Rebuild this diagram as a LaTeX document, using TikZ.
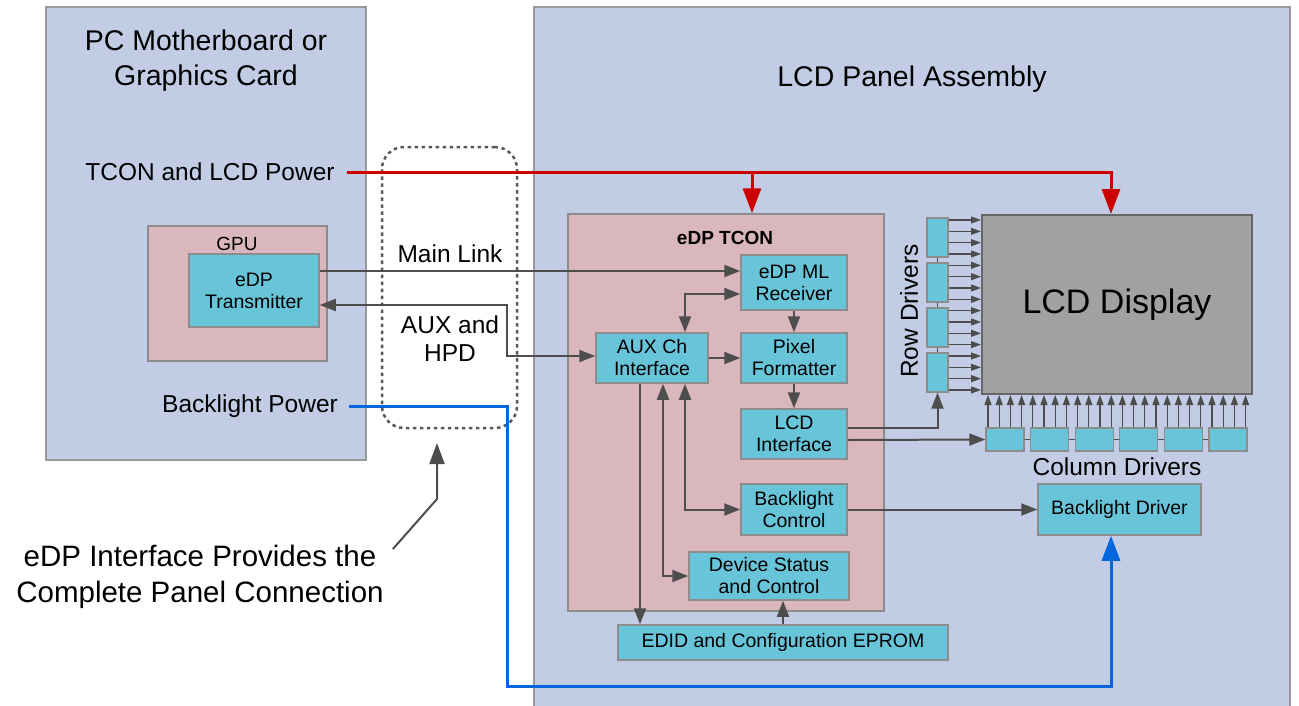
\documentclass[tikz,border=0pt]{standalone}
\usepackage{fontspec}
\setmainfont{Liberation Sans}
\usetikzlibrary{arrows.meta}

\definecolor{boardblue}{RGB}{194,205,229}
\definecolor{tconpink}{RGB}{218,182,189}
\definecolor{chipcyan}{RGB}{104,196,217}
\definecolor{wiregray}{RGB}{77,77,77}
\definecolor{pwrred}{RGB}{204,0,0}
\definecolor{pwrblue}{RGB}{0,102,221}

\begin{document}
\begin{tikzpicture}[x=1pt,y=-1pt,>={Triangle[length=16pt,width=12pt]},
	board/.style={draw=black!40,fill=boardblue,line width=1.5pt},
	pinkbox/.style={draw=black!45,fill=tconpink,line width=1.5pt},
	chip/.style={draw=black!45,fill=chipcyan,line width=1.5pt,inner sep=0pt,align=center,font=\fontsize{19.5}{22}\selectfont},
	drv/.style={draw=black!45,fill=chipcyan,line width=1.2pt,inner sep=0pt,minimum width=21pt,minimum height=39pt},
	bus/.style={wiregray,line width=2pt},
	tickarrow/.style={wiregray,line width=1.1pt,-{Triangle[length=10pt,width=7pt]}},
	power/.style={line width=3pt,-{Triangle[length=25pt,width=18pt]}},
	txt/.style={inner sep=0pt,align=center,font=\fontsize{24.5}{28}\selectfont},
	heading/.style={inner sep=0pt,align=center,font=\fontsize{28.5}{35}\selectfont}]
	\useasboundingbox (0,0) rectangle (1299,705);

	\node[board,minimum width=320pt,minimum height=453pt] (pcboard) at (206,233.5) {};
	\node[board,minimum width=756pt,minimum height=713pt] (panel) at (912,363.5) {};
	\node[heading] (pctitle) at (206,61) {PC Motherboard or\\Graphics Card};
	\node[heading] (paneltitle) at (912,79) {LCD Panel Assembly};
	\node[txt] (pwr) at (210,172) {TCON and LCD Power};
	\node[txt] (blpwr) at (250,406) {Backlight Power};

	\node[pinkbox,minimum width=179pt,minimum height=135pt] (gpu) at (237.5,293.5) {};
	\node[font=\fontsize{19}{22}\selectfont,inner sep=0pt] (gpulbl) at (237,244) {GPU};
	\node[chip,minimum width=130pt,minimum height=73pt] (tx) at (254,290.5) {eDP\\Transmitter};

	\node[draw=black!65,dash pattern=on 3.5pt off 3.5pt,line width=2.5pt,rounded corners=22pt,minimum width=135pt,minimum height=281pt] (iface) at (449.5,287.5) {};
	\node[txt] (mainlbl) at (450,254) {Main Link};
	\node[txt] (auxlbl) at (450,339) {AUX and\\HPD};

	\node[pinkbox,minimum width=316pt,minimum height=397pt] (tcon) at (726,412.5) {};
	\node[font=\bfseries\fontsize{19}{22}\selectfont,inner sep=0pt] (tconlbl) at (725,238) {eDP TCON};
	\node[chip,minimum width=106pt,minimum height=55pt] (mlrx) at (794,282.5) {eDP ML\\Receiver};
	\node[chip,minimum width=106pt,minimum height=50pt] (pixfmt) at (794,358) {Pixel\\Formatter};
	\node[chip,minimum width=112pt,minimum height=50pt] (auxch) at (652,358) {AUX Ch\\Interface};
	\node[chip,minimum width=106pt,minimum height=50pt] (lcdif) at (794,434) {LCD\\Interface};
	\node[chip,minimum width=106pt,minimum height=51pt] (blctl) at (794,509.5) {Backlight\\Control};
	\node[chip,minimum width=160pt,minimum height=48pt] (devstat) at (769,576) {Device Status\\and Control};
	\node[chip,minimum width=330pt,minimum height=35pt] (eprom) at (783,642.5) {EDID and Configuration EPROM};

	\node[draw=black!60,fill=black!37,line width=2pt,minimum width=270pt,minimum height=179pt,font=\fontsize{34}{40}\selectfont] (lcd) at (1117,304.5) {LCD Display};
	\foreach \r in {1,...,4}
		\node[drv] (rd\r) at (937.5,{192.5+45*\r}) {};
	\foreach \r [count=\n from 2] in {1,2,3}
		\draw[wiregray,line width=1.2pt] (rd\r) -- (rd\n);
	\foreach \c in {1,...,6}
		\node[drv,minimum width=38pt,minimum height=23pt] (cd\c) at ({960.4+44.6*\c},439.5) {};
	\foreach \c [count=\n from 2] in {1,...,5}
		\draw[wiregray,line width=1.2pt] (cd\c) -- (cd\n);
	\foreach \i in {0,...,15} {
		\pgfmathsetmacro\yy{220+11.33*\i}
		\draw[tickarrow] (rd1.east |- 0,\yy) -- (lcd.west |- 0,\yy);
	}
	\foreach \i in {0,...,23} {
		\pgfmathsetmacro\xx{988+11.2*\i}
		\draw[tickarrow] (\xx,0 |- cd1.north) -- (\xx,0 |- lcd.south);
	}
	\node[txt,rotate=90] (rdlbl) at (909,311) {Row Drivers};
	\node[txt] (cdlbl) at (1117,467) {Column Drivers};
	\node[chip,minimum width=163pt,minimum height=51pt] (bldrv) at (1119.5,509.5) {Backlight Driver};

	\draw[bus,->] (tx.east |- 0,271) -- (mlrx.west |- 0,271);
	\draw[bus,<->] (tx.east |- 0,305) -- (507,305) |- (auxch.west |- 0,356);
	\draw[bus,<->] (685,0 |- auxch.north) |- (mlrx.west |- 0,294);
	\draw[bus,->] (mlrx) -- (pixfmt);
	\draw[bus,->] (auxch) -- (pixfmt);
	\draw[bus,->] (pixfmt) -- (lcdif);
	\draw[bus,->] (640,0 |- auxch.south) -- (640,0 |- eprom.north);
	\draw[bus,<->] (663,0 |- auxch.south) |- (devstat.west);
	\draw[bus,<->] (685,0 |- auxch.south) |- (blctl.west);
	\draw[bus,->] (eprom) -- (eprom |- devstat.south);
	\draw[bus,->] (lcdif.east |- 0,428) -| (rd4.south);
	\draw[bus,->] (lcdif.east |- 0,440) -- (cd1.west);
	\draw[bus,->] (blctl) -- (bldrv);

	\draw[power,pwrred] ([xshift=12pt]pwr.east) -| (1111,0 |- lcd.north);
	\draw[power,pwrred] (752,171) -- (752,0 |- tcon.north);
	\draw[power,pwrblue] ([xshift=11pt]blpwr.east) -| (507,686) -| (1111,0 |- bldrv.south);

	\node[font=\fontsize{29.5}{36}\selectfont,align=center,inner sep=0pt] (note) at (200,577) {eDP Interface Provides the\\Complete Panel Connection};
	\coordinate (notetip) at (437,443);
	\draw[bus,-{Triangle[length=21pt,width=15pt]}] ([shift={(9,4)}]note.north east) -- (437,499) -- (notetip);
\end{tikzpicture}
\end{document}
